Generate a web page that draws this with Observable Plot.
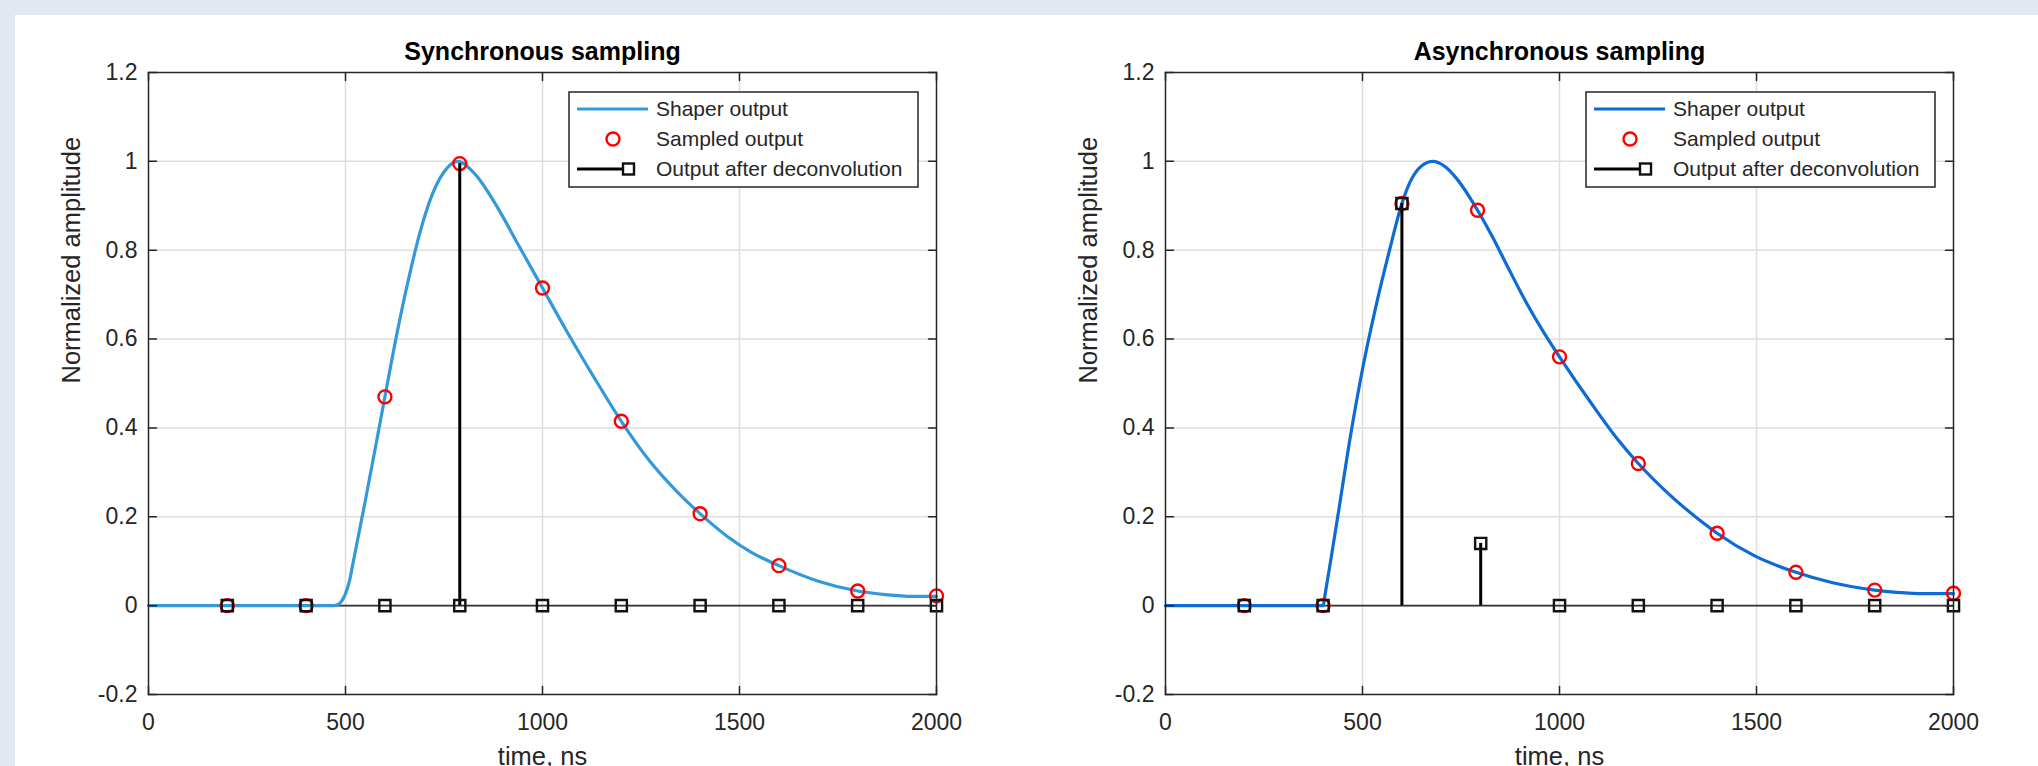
<!DOCTYPE html>
<html>
<head>
<meta charset="utf-8">
<script src="https://cdn.jsdelivr.net/npm/d3@7"></script>
<script src="https://cdn.jsdelivr.net/npm/@observablehq/plot@0.6"></script>
<style>
  html, body { margin: 0; padding: 0; }
  body { width: 2038px; height: 766px; overflow: hidden; background: #e3e7f0; position: relative;
         font-family: "Liberation Sans", Arial, Helvetica, sans-serif; }
  #panel { position: absolute; left: 15px; top: 15px; width: 2023px; height: 751px; background: #ffffff; }
  .chart { position: absolute; top: 0; }
  .chart svg { overflow: visible; background: transparent; }
</style>
</head>
<body>
<div id="panel"></div>
<div id="left" class="chart" style="left:0px"></div>
<div id="right" class="chart" style="left:1019px"></div>
<script>
// ---------- data ----------
const xTicks = [0, 500, 1000, 1500, 2000];
const xTickLabels = ["0", "500", "1000", "1500", "2000"];
const yTicks = [-0.2, 0, 0.2, 0.4, 0.6, 0.8, 1, 1.2];
const yTickLabels = ["-0.2", "0", "0.2", "0.4", "0.6", "0.8", "1", "1.2"];

const legendLabels = ["Shaper output", "Sampled output", "Output after deconvolution"];

// Synchronous sampling: shaper output curve
const syncT = [0, 470, 480, 490, 500, 510, 520, 550, 580, 600, 630, 660, 690, 720, 750, 785, 830, 880, 940, 1000, 1060, 1130, 1200, 1270, 1340, 1400, 1470, 1530, 1600, 1700, 1800, 1870, 1940, 2000];
const syncY = [0, 0, 0.002, 0.01, 0.027, 0.055, 0.1, 0.235, 0.375, 0.47, 0.61, 0.735, 0.843, 0.925, 0.976, 1.0, 0.97, 0.905, 0.81, 0.715, 0.62, 0.515, 0.415, 0.328, 0.258, 0.207, 0.155, 0.12, 0.09, 0.055, 0.033, 0.025, 0.021, 0.021];
// Synchronous: sampled points
const syncSampleT = [200, 400, 600, 790, 1000, 1200, 1400, 1600, 1800, 2000];
const syncSampleY = [0, 0, 0.47, 0.995, 0.715, 0.415, 0.207, 0.09, 0.033, 0.022];
// Synchronous: deconvolution output (markers) and stem heights
const syncDeconvT = [200, 400, 600, 790, 1000, 1200, 1400, 1600, 1800, 2000];
const syncDeconvY = [0, 0, 0, 0, 0, 0, 0, 0, 0, 0];
const syncStemY   = [0, 0, 0, 0.995, 0, 0, 0, 0, 0, 0];

// Asynchronous sampling: shaper output curve
const asyncT = [0, 400, 405, 419, 438, 471, 504, 537, 570, 600, 620, 645, 678, 710, 740, 770, 792, 830, 870, 917, 960, 1000, 1081, 1147, 1200, 1279, 1345, 1400, 1493, 1600, 1691, 1800, 1856, 1930, 2000];
const asyncY = [0, 0, 0.025, 0.1, 0.205, 0.39, 0.55, 0.685, 0.805, 0.905, 0.952, 0.986, 1.0, 0.988, 0.96, 0.922, 0.89, 0.83, 0.76, 0.68, 0.615, 0.56, 0.455, 0.375, 0.32, 0.25, 0.2, 0.163, 0.113, 0.075, 0.052, 0.035, 0.03, 0.027, 0.027];
// Asynchronous: sampled points
const asyncSampleT = [200, 400, 600, 792, 1000, 1200, 1400, 1600, 1800, 2000];
const asyncSampleY = [0, 0, 0.905, 0.89, 0.56, 0.32, 0.163, 0.075, 0.035, 0.028];
// Asynchronous: deconvolution output
const asyncDeconvT = [200, 400, 600, 800, 1000, 1200, 1400, 1600, 1800, 2000];
const asyncDeconvY = [0, 0, 0.905, 0.14, 0, 0, 0, 0, 0, 0];
const asyncStemY   = [0, 0, 0.905, 0.14, 0, 0, 0, 0, 0, 0];

// ---------- styling ----------
const FONT = '"Liberation Sans", Arial, Helvetica, sans-serif';
const AXIS = "#262626";
const RED = "#ff0000";

const zip = (xs, ys) => xs.map((x, i) => ({x, y: ys[i]}));

const tickShape = {draw(context, l) { context.moveTo(0, 0); context.lineTo(0, -l); }};

function makeChart(cfg) {
  const W = 1019, H = 766;
  const curve = zip(cfg.curveT, cfg.curveY);
  const samples = zip(cfg.sampleT, cfg.sampleY);
  const markers = zip(cfg.deconvT, cfg.deconvY);
  const stems = zip(cfg.deconvT, cfg.stemY).filter(d => d.y !== 0);

  const chart = Plot.plot({
    width: W, height: H,
    marginLeft: cfg.marginLeft, marginRight: W - cfg.marginLeft - 788,
    marginTop: 72, marginBottom: H - 694,
    style: {fontFamily: FONT, background: "transparent", overflow: "visible"},
    x: {domain: [0, 2000]},
    y: {domain: [-0.2, 1.2]},
    marks: [
      Plot.gridX(xTicks.slice(1, -1), {stroke: "#dedede", strokeOpacity: 1, strokeWidth: 1.5}),
      Plot.gridY(yTicks.slice(1, -1), {stroke: "#dedede", strokeOpacity: 1, strokeWidth: 1.5}),
      // stem baseline
      Plot.ruleY([0], {x1: 0, x2: 2000, stroke: "#333333", strokeWidth: 1.6}),
      // shaper output
      Plot.line(curve, {x: "x", y: "y", stroke: cfg.color, strokeWidth: 3.2, curve: "monotone-x"}),
      // sampled output
      Plot.dot(samples, {x: "x", y: "y", r: 6.5, stroke: RED, strokeWidth: 2.4, fill: "none"}),
      // stems
      Plot.ruleX(stems, {x: "x", y1: 0, y2: "y", stroke: "#000000", strokeWidth: 3}),
      Plot.dot(markers, {x: "x", y: "y", symbol: "square", r: 6.3, stroke: "#111111", strokeWidth: 2.4, fill: "none"}),
      // frame
      Plot.frame({stroke: AXIS, strokeWidth: 1.5}),
      // inward ticks on all sides
      Plot.vector(xTicks, {x: d => d, frameAnchor: "bottom", length: 8, rotate: 0, anchor: "start", shape: tickShape, stroke: AXIS, strokeWidth: 1.5}),
      Plot.vector(xTicks, {x: d => d, frameAnchor: "top", length: 8, rotate: 180, anchor: "start", shape: tickShape, stroke: AXIS, strokeWidth: 1.5}),
      Plot.vector(yTicks, {y: d => d, frameAnchor: "left", length: 8, rotate: 90, anchor: "start", shape: tickShape, stroke: AXIS, strokeWidth: 1.5}),
      Plot.vector(yTicks, {y: d => d, frameAnchor: "right", length: 8, rotate: -90, anchor: "start", shape: tickShape, stroke: AXIS, strokeWidth: 1.5}),
      // tick labels
      Plot.axisX({ticks: xTicks, tickSize: 0, tickPadding: 19, fontSize: 23, label: null,
                  tickFormat: (d) => xTickLabels[xTicks.indexOf(d)], color: AXIS}),
      Plot.axisY({ticks: yTicks, tickSize: 0, tickPadding: 11, fontSize: 23, label: null,
                  tickFormat: (d) => yTickLabels[yTicks.indexOf(d)], color: AXIS}),
      // title & axis labels
      Plot.text([cfg.title], {frameAnchor: "top", text: d => d, dy: -13, lineAnchor: "bottom",
                  fontSize: 25, fontWeight: "bold", fill: "#000000"}),
      Plot.text(["Normalized amplitude"], {frameAnchor: "left", text: d => d, dx: -69, rotate: -90,
                  lineAnchor: "bottom", fontSize: 25.5, fill: AXIS}),
      Plot.text(["time, ns"], {frameAnchor: "bottom", text: d => d, dy: 70, lineAnchor: "bottom",
                  fontSize: 25.5, fill: AXIS})
    ]
  });

  // ---------- legend ----------
  const svg = d3.select(chart);
  const fr = cfg.marginLeft + 788;   // frame right in svg px
  const ft = 72;                     // frame top
  const g = svg.append("g").attr("font-family", FONT).attr("text-anchor", "start");
  const bx = fr - 367, by = ft + 20, bw = 349, bh = 95;
  g.append("rect").attr("x", bx).attr("y", by).attr("width", bw).attr("height", bh)
    .attr("fill", "#ffffff").attr("stroke", AXIS).attr("stroke-width", 1.5);
  const rows = [by + 17, by + 47, by + 77];
  const lx0 = bx + 8, lx1 = bx + 79;
  // row 1: line
  g.append("line").attr("x1", lx0).attr("x2", lx1).attr("y1", rows[0]).attr("y2", rows[0])
    .attr("stroke", cfg.color).attr("stroke-width", 3.2);
  // row 2: circle
  g.append("circle").attr("cx", bx + 44).attr("cy", rows[1]).attr("r", 6.5)
    .attr("fill", "none").attr("stroke", RED).attr("stroke-width", 2.4);
  // row 3: stem icon
  g.append("line").attr("x1", lx0).attr("x2", bx + 54).attr("y1", rows[2]).attr("y2", rows[2])
    .attr("stroke", "#000").attr("stroke-width", 3);
  g.append("rect").attr("x", bx + 54).attr("y", rows[2] - 5.5).attr("width", 11).attr("height", 11)
    .attr("fill", "none").attr("stroke", "#111").attr("stroke-width", 2.4);
  legendLabels.forEach((t, i) => {
    g.append("text").attr("x", bx + 87).attr("y", rows[i]).attr("dy", "0.35em")
      .attr("text-anchor", "start").attr("font-size", 21).attr("fill", AXIS).text(t);
  });
  return chart;
}

document.getElementById("left").appendChild(makeChart({
  title: "Synchronous sampling", marginLeft: 148, color: "#3399d8",
  curveT: syncT, curveY: syncY, sampleT: syncSampleT, sampleY: syncSampleY,
  deconvT: syncDeconvT, deconvY: syncDeconvY, stemY: syncStemY
}));
document.getElementById("right").appendChild(makeChart({
  title: "Asynchronous sampling", marginLeft: 146, color: "#0c6bd5",
  curveT: asyncT, curveY: asyncY, sampleT: asyncSampleT, sampleY: asyncSampleY,
  deconvT: asyncDeconvT, deconvY: asyncDeconvY, stemY: asyncStemY
}));
</script>
</body>
</html>
